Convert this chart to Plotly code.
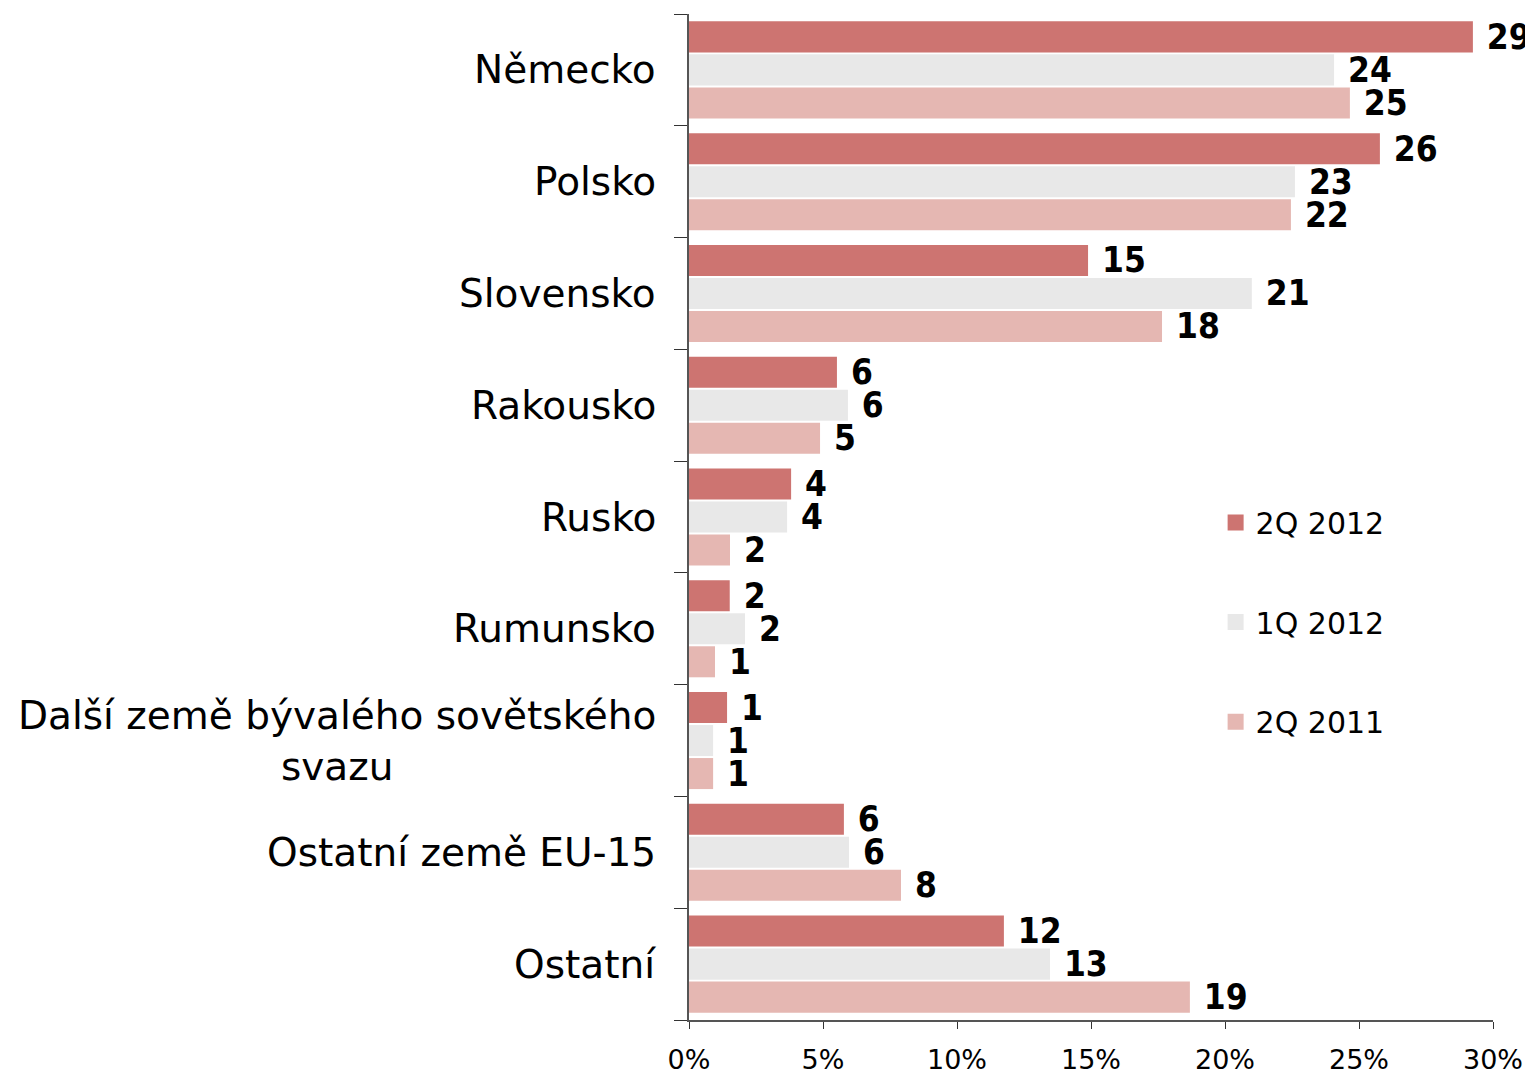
import plotly.graph_objects as go

categories = ["Německo", "Polsko", "Slovensko", "Rakousko", "Rusko", "Rumunsko",
              "Další země bývalého sovětského<br>svazu", "Ostatní země EU-15", "Ostatní"]
series_names = ["2Q 2012", "1Q 2012", "2Q 2011"]
q2_2012 = [29.25, 25.78, 14.89, 5.52, 3.81, 1.52, 1.42, 5.78, 11.75]
q1_2012 = [24.07, 22.61, 21.00, 5.93, 3.66, 2.09, 0.90, 5.97, 13.47]
q2_2011 = [24.66, 22.46, 17.65, 4.89, 1.53, 0.97, 0.90, 7.91, 18.69]
colors = ["#CD7471", "#E8E8E8", "#E5B7B2"]
x_ticks = [0, 5, 10, 15, 20, 25, 30]

FONT = "DejaVu Sans"
LABEL_FONT = "DejaVu Sans Condensed, DejaVu Sans"
fig = go.Figure()
legend_ids = ["legend", "legend2", "legend3"]
for name, vals, col, lg in zip(series_names, [q2_2012, q1_2012, q2_2011], colors, legend_ids):
    fig.add_trace(go.Bar(
        y=list(range(len(categories))), x=vals, orientation="h", name=name,
        marker=dict(color=col, line=dict(width=0)),
        text=["\u00a0" + str(int(round(v))) for v in vals],
        textposition="outside", constraintext="none", cliponaxis=False,
        textfont=dict(family=LABEL_FONT, size=35, color="black", weight="bold"),
        showlegend=False, hoverinfo="skip",
    ))
    fig.add_trace(go.Scatter(
        x=[None], y=[None], mode="markers", name=name, legend=lg,
        marker=dict(symbol="square", size=17, color=col),
        showlegend=True,
    ))

for i, c in enumerate(categories):
    fig.add_annotation(
        x=-0.0386, xref="paper", y=i, yref="y", text=c, showarrow=False,
        xanchor="right", yanchor="middle", align="center",
        font=dict(family=FONT, size=39, color="black"),
    )

leg_common = dict(x=0.655, xanchor="left", yanchor="middle", bgcolor="rgba(0,0,0,0)",
                  font=dict(family=FONT, size=30, color="black"))
fig.update_layout(
    width=1525, height=1066,
    margin=dict(l=681, r=40, t=6, b=54, autoexpand=False),
    paper_bgcolor="white", plot_bgcolor="white",
    barmode="group", bargap=0.114, bargroupgap=0.06,
    legend=dict(y=0.4945, **leg_common),
    legend2=dict(y=0.3956, **leg_common),
    legend3=dict(y=0.2965, **leg_common),
    xaxis=dict(range=[0, 30], tickvals=x_ticks, ticktext=[f"{t}%" for t in x_ticks],
               showgrid=False, zeroline=False, showline=True, linecolor="#555", linewidth=1.5,
               ticks="outside", ticklen=7, tickcolor="#333", ticklabelstandoff=8,
               automargin=False,
               tickfont=dict(family=FONT, size=27, color="black")),
    yaxis=dict(range=[len(categories) - 0.5, -0.5], tickmode="array",
               tickvals=[i - 0.5 for i in range(len(categories) + 1)], ticktext=[""] * (len(categories) + 1),
               showgrid=False, zeroline=False, showline=True, linecolor="#555", linewidth=1.5,
               automargin=False,
               ticks="outside", ticklen=13, tickcolor="#333", showticklabels=False),
)
fig.write_html("out.html")
